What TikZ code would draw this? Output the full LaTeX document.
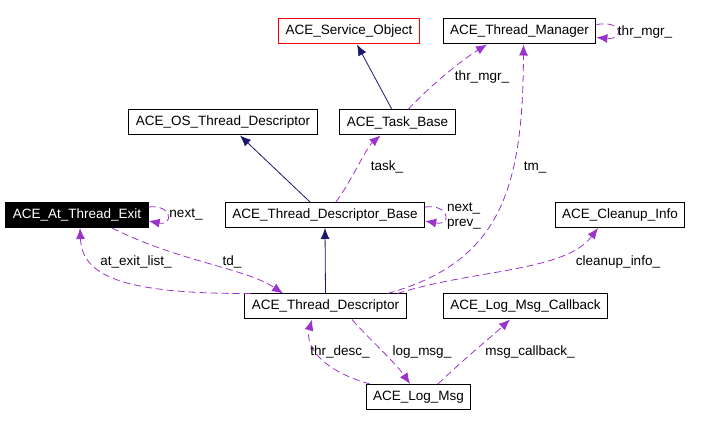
\documentclass[tikz,border=0pt]{standalone}
\usepackage{fontspec}
\setmainfont{Liberation Sans}
\usetikzlibrary{positioning, arrows.meta}
\tikzset{>={Latex[length=11pt,width=9pt]}}
\usepackage{xcolor}
\definecolor{navy}{HTML}{191970}
\definecolor{orchid}{HTML}{9A32CD}

\begin{document}
\begin{tikzpicture}[x=1pt,y=-1pt,
  every node/.style={font=\fontsize{13.5}{15}\selectfont},
  cls/.style={draw,line width=1pt,minimum height=25pt,inner xsep=7pt,inner ysep=0pt},
  lbl/.style={inner sep=0pt},
  inh/.style={->,navy,line width=0.8pt},
  use/.style={->,orchid,line width=0.8pt,dash pattern=on 7pt off 4pt}]
\useasboundingbox (0,0) rectangle (710,427);
  \node[cls,draw=red] (svc) at (349,31.5) {ACE\_Service\_Object};
  \node[cls] (tmgr) at (519.5,31.5) {ACE\_Thread\_Manager};
  \node[cls] (osdesc) at (223,122.5) {ACE\_OS\_Thread\_Descriptor};
  \node[cls] (task) at (397.5,122.5) {ACE\_Task\_Base};
  \node[cls,fill=black,text=white] (atexit) at (77,215) {ACE\_At\_Thread\_Exit};
  \node[cls] (tdbase) at (325,215) {ACE\_Thread\_Descriptor\_Base};
  \node[cls] (cleanup) at (620,215) {ACE\_Cleanup\_Info};
  \node[cls] (tdesc) at (325.5,306.5) {ACE\_Thread\_Descriptor};
  \node[cls] (cb) at (525.5,306.5) {ACE\_Log\_Msg\_Callback};
  \node[cls] (logmsg) at (418.5,397) {ACE\_Log\_Msg};

  \draw[inh] ([xshift=-5.5pt]task.north) -- ([xshift=8pt]svc.south);
  \draw[inh] ([xshift=-15pt]tdbase.north) -- ([xshift=17pt]osdesc.south);
  \draw[inh] (tdesc.north) -- (tdbase.south);

  \draw[use] ([xshift=10.5pt]task.north) .. controls (432,84) and (462,60) .. ([xshift=-32.5pt]tmgr.south);
  \node[lbl] (l1) at (482,77) {thr\_mgr\_};
  \draw[use] ([yshift=7pt]tmgr.east) .. controls (624,20) and (624,40) .. ([yshift=-6pt]tmgr.east);
  \node[lbl] (l2) at (645,32) {thr\_mgr\_};
  \draw[use] ([xshift=11pt]tdbase.north) .. controls (352,180) and (366,148) .. ([xshift=-17pt]task.south);
  \node[lbl] (l3) at (387,167) {task\_};
  \draw[use] ([xshift=62pt]tdesc.north) .. controls (500,262) and (523,190) .. ([xshift=4pt]tmgr.south);
  \node[lbl] (l4) at (535,167) {tm\_};
  \draw[use] ([xshift=72pt]tdesc.north) .. controls (470,270) and (565,272) .. ([xshift=-22pt]cleanup.south);
  \node[lbl] (l5) at (618,262) {cleanup\_info\_};
  \draw[use] ([yshift=8pt]tdbase.east) .. controls (450,204) and (452,226) .. ([yshift=-6pt]tdbase.east);
  \node[lbl,align=left] (l6) at (464,216) {next\_\\prev\_};
  \draw[use] ([yshift=8pt]atexit.east) .. controls (172,204) and (174,226) .. ([yshift=-6pt]atexit.east);
  \node[lbl] (l7) at (186,214) {next\_};
  \draw[use] ([xshift=35pt]atexit.south) .. controls (180,262) and (245,268) .. ([xshift=-42.5pt]tdesc.north);
  \node[lbl] (l8) at (232,262) {td\_};
  \draw[use] ([xshift=-75pt]tdesc.north) .. controls (120,294) and (82,275) .. ([xshift=3pt]atexit.south);
  \node[lbl] (l9) at (136,262) {at\_exit\_list\_};
  \draw[use] ([xshift=-48.5pt]logmsg.north) .. controls (320,370) and (305,345) .. ([xshift=-13.5pt]tdesc.south);
  \node[lbl] (l10) at (340,352) {thr\_desc\_};
  \draw[use] ([xshift=26.5pt]tdesc.south) .. controls (370,340) and (395,362) .. ([xshift=-8.5pt]logmsg.north);
  \node[lbl] (l11) at (422,352) {log\_msg\_};
  \draw[use] ([xshift=19.5pt]logmsg.north) .. controls (465,358) and (490,338) .. ([xshift=-15.5pt]cb.south);
  \node[lbl] (l12) at (530,352) {msg\_callback\_};
\end{tikzpicture}
\end{document}
